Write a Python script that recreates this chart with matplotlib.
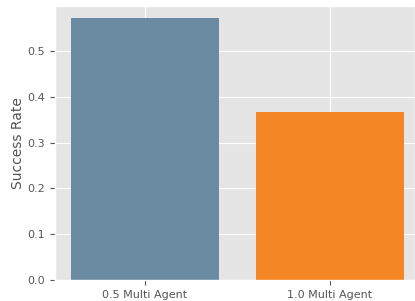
import matplotlib
matplotlib.use('Agg')
import matplotlib.pyplot as plt

## data ##
labels = ['0.5 Multi Agent', '1.0 Multi Agent']
success_rate = [0.572, 0.367]
colors = ['#6688a0', '#f5821f']

## plot ##
plt.style.use('ggplot')
fig = plt.figure(figsize=(4.15, 3.01), dpi=100)
ax = fig.add_axes([0.1325, 0.07, 0.8675, 0.91])
ax.bar(labels, success_rate, color=colors, width=0.8, alpha=0.97)
ax.set_xlim(-0.486, 1.46)
ax.set_ylim(0, 0.598)
ax.set_ylabel('Success Rate', fontsize=10, color='#555555', labelpad=2)
ax.tick_params(labelsize=8)
fig.savefig('out.png', dpi=100)
